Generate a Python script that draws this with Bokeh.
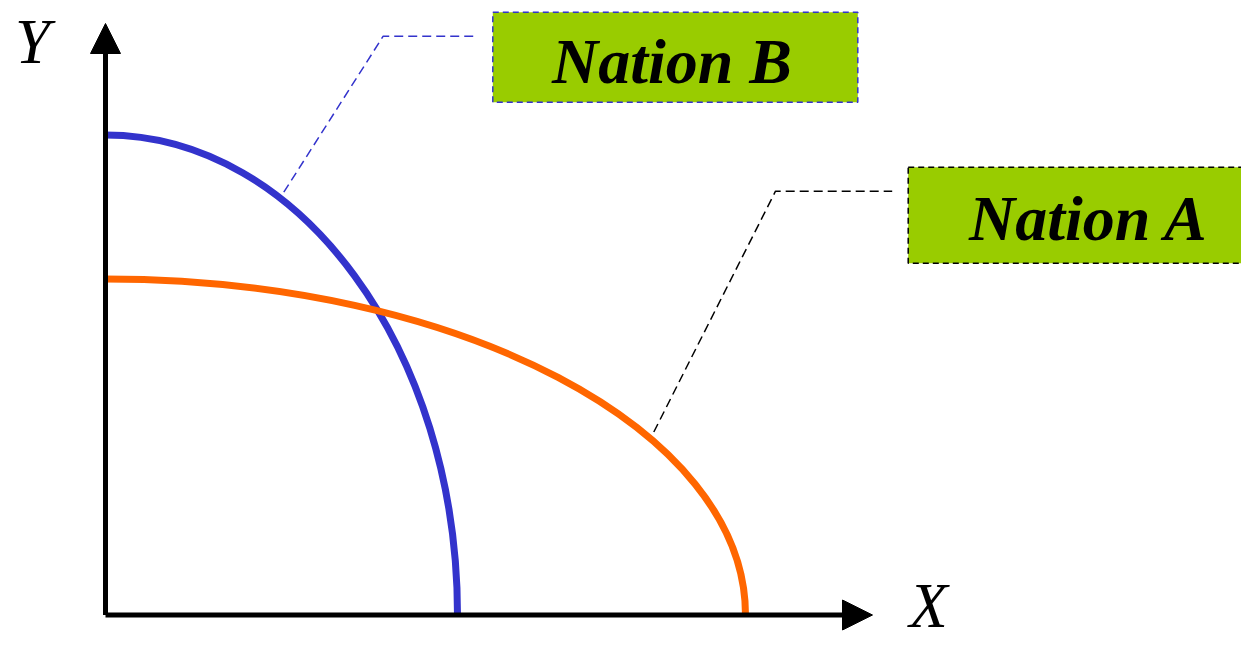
from bokeh.plotting import figure
from bokeh.models import Range1d, Arrow, NormalHead, Label
from bokeh.embed import file_html
from bokeh.resources import INLINE

# ---- data (origin of the diagram = (0, 0)) ----
nations = ["Nation B", "Nation A"]
x_intercepts = [352, 640]      # maximum output of good X
y_intercepts = [480, 336]      # maximum output of good Y
curve_colors = ["#3333CC", "#FF6600"]
axis_labels = ["X", "Y"]

# ---- layout constants ----
KAPPA = 0.5523  # cubic Bezier constant for a quarter ellipse
X_TIP = 767
Y_TIP = 591.5
GREEN = "#99CC00"
SERIF = "Liberation Serif"
BASE_FIX = 22   # compensation for the SVG alphabetic baseline placement

label_boxes = {
    "Nation B": dict(left=387.3, right=752.3, bottom=512.8, top=602.8, border="#3333CC",
                     tx=566.5, ty=531.5, leader_x=[178.3, 277.7, 371.7],
                     leader_y=[422.8, 578.8, 578.8]),
    "Nation A": dict(left=802.7, right=1170, bottom=351.8, top=447.8, border="#000000",
                     tx=983.5, ty=374.5, leader_x=[548.3, 670, 786.7],
                     leader_y=[183, 423.8, 423.8]),
}

p = figure(width=1241, height=640, output_backend="svg", toolbar_location=None,
           x_range=Range1d(-105, 1136), y_range=Range1d(-25.5, 614.5),
           x_axis_type=None, y_axis_type=None, min_border=0,
           outline_line_color=None, background_fill_color="white",
           border_fill_color="white")

# production possibility curves (quarter ellipses through the intercepts)
for a, b, c in zip(x_intercepts, y_intercepts, curve_colors):
    p.bezier(x0=[0], y0=[b], x1=[a], y1=[0],
             cx0=[KAPPA * a], cy0=[b], cx1=[a], cy1=[KAPPA * b],
             line_color=c, line_width=7)

# label boxes and dashed leader lines
for name in nations:
    bx = label_boxes[name]
    p.line(bx["leader_x"], bx["leader_y"], line_color=bx["border"],
           line_width=1.5, line_dash="9 5")
    p.quad(left=[bx["left"]], right=[bx["right"]], bottom=[bx["bottom"]],
           top=[bx["top"]], fill_color=GREEN, line_color=bx["border"],
           line_width=1.5, line_dash="6 4")
    p.add_layout(Label(x=bx["tx"], y=bx["ty"] + BASE_FIX, text=name, text_font=SERIF,
                       text_font_style="bold italic", text_font_size="64px",
                       text_align="center", text_baseline="alphabetic",
                       text_color="black"))

# axes with arrow heads
for xe, ye in [(X_TIP, 0), (0, Y_TIP)]:
    p.add_layout(Arrow(end=NormalHead(size=30, fill_color="black",
                                      line_color="black", line_width=1),
                       x_start=0, y_start=0, x_end=xe, y_end=ye,
                       line_color="black", line_width=5))

# axis names
p.add_layout(Label(x=823, y=-12.5 + BASE_FIX, text=axis_labels[0], text_font=SERIF,
                   text_font_style="italic", text_font_size="63px",
                   text_align="center", text_baseline="alphabetic", text_color="black"))
p.add_layout(Label(x=-73, y=551.5 + BASE_FIX, text=axis_labels[1], text_font=SERIF,
                   text_font_style="italic", text_font_size="63px",
                   text_align="center", text_baseline="alphabetic", text_color="black"))

open("out.html", "w").write(file_html(p, INLINE))
